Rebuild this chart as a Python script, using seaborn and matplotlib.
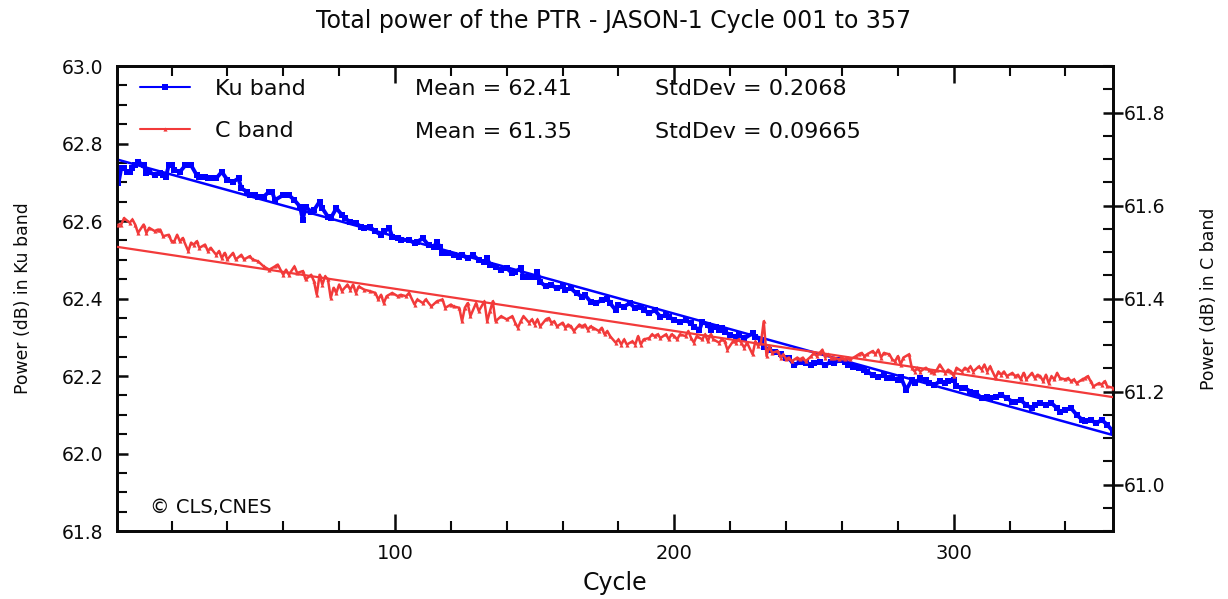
import numpy as np
import pandas as pd
import matplotlib
matplotlib.use("Agg")
import matplotlib.pyplot as plt
from matplotlib.ticker import MultipleLocator, FormatStrFormatter
import seaborn as sns

# ---------------- data ----------------
ku_cycle = [1, 2, 3, 4, 5, 6, 7, 8, 10, 11, 12, 14, 16, 17, 18, 19, 20, 21, 23, 25, 27, 29, 30, 32, 33, 35, 36, 38,
            40, 42, 44, 45, 47, 48, 50, 51, 53, 55, 56, 57, 60, 62, 64, 66, 67, 68, 70,
            71, 73, 74, 76, 77, 79, 81, 82, 84, 86, 88, 89, 91, 93, 95, 96, 98, 99, 101, 102, 105, 107, 108, 110,
            112, 114, 115, 116, 117, 119, 121, 123, 124, 126, 128, 130, 132, 133, 134, 136, 138, 140, 142,
            143, 145, 146, 148, 150, 151, 152, 154, 156, 158, 160, 161, 163, 165, 167, 168, 170, 172, 174, 176,
            177, 179, 180, 182, 184, 186, 188, 189, 191, 193, 195, 197, 198, 200, 202, 204, 206, 207, 209, 210,
            212, 213, 214,
            215, 216, 217, 218, 220, 222, 223, 225, 228, 229, 231, 232, 234, 236, 238, 240, 241, 243, 245, 247,
            249, 250, 252, 254, 256, 257, 259, 261, 262, 264, 266, 268, 269, 271, 273, 275, 276, 278, 280, 281,
            283, 285,
            286, 288, 290, 291, 293, 295, 297, 298, 300, 301, 303, 304, 306, 308, 310, 312, 313, 315, 317, 319,
            321, 322, 324, 326, 328, 329, 331, 333, 335, 337, 338, 340, 342, 344, 346, 347, 349, 351, 353, 355, 357]
ku_power = [62.697, 62.736, 62.736, 62.727, 62.727, 62.736, 62.744, 62.753, 62.744, 62.723, 62.727, 62.719, 62.723,
            62.719, 62.714, 62.744, 62.744, 62.732, 62.727, 62.744, 62.744, 62.719, 62.714, 62.714, 62.710, 62.710,
            62.710, 62.727, 62.706, 62.701, 62.710, 62.684, 62.676, 62.667, 62.667, 62.663, 62.663, 62.676, 62.676,
            62.654, 62.667, 62.667, 62.654, 62.637, 62.603, 62.637, 62.624,
            62.628, 62.650, 62.633, 62.611, 62.607, 62.633, 62.616, 62.607, 62.598, 62.594, 62.585, 62.581, 62.585,
            62.573, 62.564, 62.573, 62.581, 62.560, 62.555, 62.551, 62.551, 62.543, 62.547, 62.555,
            62.538, 62.534, 62.547, 62.534, 62.517, 62.517, 62.512, 62.508, 62.512, 62.504, 62.512, 62.499, 62.495,
            62.504, 62.487, 62.482, 62.474, 62.478, 62.465,
            62.469, 62.478, 62.456, 62.456, 62.456, 62.469, 62.443, 62.431, 62.435, 62.426, 62.431, 62.422, 62.426,
            62.413, 62.405, 62.409, 62.392, 62.388, 62.396, 62.400,
            62.388, 62.370, 62.383, 62.379, 62.388, 62.375, 62.379, 62.370, 62.362, 62.370, 62.353, 62.357, 62.353,
            62.344, 62.340, 62.344, 62.336, 62.327, 62.319, 62.340,
            62.332, 62.319, 62.327,
            62.327, 62.319, 62.323, 62.314, 62.306, 62.301, 62.306, 62.297, 62.310, 62.301, 62.293, 62.276, 62.267,
            62.263, 62.258, 62.246, 62.246, 62.228, 62.237, 62.233,
            62.228, 62.233, 62.237, 62.228, 62.237, 62.233, 62.241, 62.237, 62.228, 62.224, 62.220, 62.215, 62.211,
            62.203, 62.198, 62.203, 62.194, 62.194, 62.190, 62.198,
            62.164, 62.190,
            62.181, 62.194, 62.190, 62.181, 62.177, 62.186, 62.181, 62.186, 62.190, 62.173, 62.169, 62.169, 62.160,
            62.156, 62.143, 62.147, 62.143, 62.147, 62.151, 62.143,
            62.134, 62.134, 62.138, 62.125, 62.117, 62.125, 62.130, 62.125, 62.130, 62.117, 62.108, 62.113, 62.117,
            62.100, 62.087, 62.083, 62.087, 62.078, 62.087, 62.074, 62.057]

c_cycle = [1, 2, 3, 5, 6, 7, 8, 10, 11, 12, 14, 15, 16, 17, 19, 20, 21, 22, 23, 24, 26, 27, 28, 29, 30, 32, 33, 34,
           36, 37, 38, 39, 40, 42, 43, 45, 46, 48, 49, 51, 53, 55, 57, 58, 60, 61, 62, 64, 65, 67, 68, 70, 71,
           72, 73, 74, 75, 76, 77, 78, 79, 80, 81, 83, 84, 85, 86, 87, 89, 91, 93, 94, 95, 96, 97, 99, 101, 102,
           104, 105, 107, 108, 110, 111, 113, 115, 117, 118, 120, 121, 123, 124, 125, 126, 127, 129, 130, 132,
           133, 134, 135, 136, 138, 140, 142,
           143, 144, 145, 146, 148, 149, 150, 151, 152, 154, 155, 156, 157, 158, 160, 161, 162, 163, 164, 166,
           167, 168, 169, 170, 171, 173, 174, 175, 176, 177, 179, 180, 181, 182, 183, 185, 186, 187, 188, 189,
           191, 192, 193, 194, 195, 197, 198, 199, 200, 201, 202, 204, 205, 206, 207, 208, 210, 211, 212, 213,
           214, 216, 217, 218, 219, 221, 222, 223, 224, 225, 226, 228, 229, 230, 231, 232, 233, 234, 235, 237,
           238, 239, 240, 241, 242, 244, 245, 246, 247, 249, 250, 251, 252, 253, 254, 255, 256, 257, 259, 260,
           261, 262, 263, 265, 266, 267, 268, 269, 271, 272, 273, 274, 275, 277, 278, 279, 280, 281, 282, 284, 285,
           286, 287, 288, 290, 291, 292, 293, 294, 295, 297, 298, 299, 300, 301, 303, 304, 305, 306, 307, 309,
           310, 311, 312, 313, 315, 316, 317, 318, 319, 321, 322, 323, 324, 325, 326, 328, 329, 330, 331, 332,
           333, 334, 335, 336, 337, 338, 340, 341, 342, 343, 344, 346, 347, 348, 349, 350, 352, 353, 354, 355, 357]
c_power = [61.559, 61.559, 61.573, 61.563, 61.570, 61.559, 61.541, 61.559, 61.541, 61.552, 61.545, 61.548, 61.548,
           61.534, 61.537, 61.523, 61.523, 61.537, 61.523, 61.530, 61.502, 61.520, 61.516, 61.523, 61.509, 61.516,
           61.502, 61.509, 61.494, 61.502, 61.487, 61.498, 61.484, 61.498, 61.484, 61.494, 61.484, 61.491, 61.484,
           61.480, 61.469, 61.462, 61.469, 61.473, 61.451, 61.462, 61.451, 61.469, 61.455, 61.459, 61.441, 61.451,
           61.437,
           61.408, 61.451, 61.430, 61.448, 61.441, 61.401, 61.423, 61.412, 61.430, 61.416, 61.430, 61.419, 61.430,
           61.412, 61.426, 61.419, 61.416, 61.412, 61.398, 61.408, 61.390, 61.405, 61.412, 61.405, 61.408,
           61.405, 61.412, 61.387, 61.398, 61.390, 61.398, 61.383, 61.394, 61.398, 61.380, 61.387, 61.383, 61.380,
           61.351, 61.380, 61.390, 61.362, 61.390, 61.373, 61.394,
           61.351, 61.373, 61.394, 61.351, 61.362, 61.355, 61.362,
           61.348, 61.337, 61.351, 61.362, 61.348, 61.355, 61.344, 61.355, 61.340, 61.355, 61.358, 61.348, 61.351,
           61.340, 61.348, 61.337, 61.344, 61.340, 61.330, 61.344,
           61.340, 61.344, 61.333, 61.340, 61.337, 61.330, 61.337, 61.323, 61.330, 61.319, 61.305, 61.312, 61.301,
           61.312, 61.301, 61.308, 61.301, 61.319, 61.301, 61.312,
           61.315, 61.323, 61.319, 61.323, 61.315, 61.323, 61.312, 61.323, 61.319, 61.312, 61.323, 61.319, 61.330,
           61.315, 61.305, 61.319, 61.312, 61.323, 61.308, 61.323,
           61.312, 61.305, 61.312, 61.308, 61.290, 61.308, 61.305, 61.312, 61.305, 61.294, 61.305, 61.280, 61.308,
           61.298, 61.305, 61.351, 61.276, 61.298, 61.283, 61.287,
           61.273, 61.280, 61.269, 61.273, 61.265, 61.273, 61.269, 61.273, 61.265, 61.276, 61.283, 61.276, 61.283,
           61.290, 61.273, 61.280, 61.273, 61.273, 61.269, 61.273,
           61.269, 61.273, 61.269, 61.276, 61.280, 61.283, 61.276, 61.280, 61.287, 61.280, 61.290, 61.273, 61.283,
           61.280, 61.269, 61.265, 61.276, 61.258, 61.273, 61.280, 61.251,
           61.243, 61.251, 61.243, 61.251, 61.247, 61.243, 61.240, 61.247, 61.258, 61.240, 61.247, 61.243, 61.233,
           61.251, 61.243, 61.251, 61.247, 61.254, 61.243, 61.254,
           61.247, 61.258, 61.243, 61.254, 61.229, 61.243, 61.236, 61.243, 61.233, 61.240, 61.233, 61.236, 61.226,
           61.240, 61.226, 61.240, 61.229, 61.236, 61.233, 61.222,
           61.236, 61.218, 61.233, 61.226, 61.240, 61.229, 61.226, 61.229, 61.222, 61.226, 61.218, 61.226, 61.229,
           61.233, 61.222, 61.211, 61.218, 61.215, 61.222, 61.211, 61.208]

series_labels = ["Ku band", "C band"]
stats_text = [("Mean = 62.41", "StdDev = 0.2068"), ("Mean = 61.35", "StdDev = 0.09665")]
title = "Total power of the PTR - JASON-1 Cycle 001 to 357"
x_label = "Cycle"
ku_label = "Power (dB) in Ku band"
c_label = "Power (dB) in C band"
credit = "\u00a9 CLS,CNES"

# ---------------- styling ----------------
sns.set_theme(style="ticks")
plt.rcParams["font.family"] = ["DejaVu Sans"]
BLUE = "#0000ff"
RED = "#f23a3a"
INK = "#0a0a0a"

ku_df = pd.DataFrame({"cycle": ku_cycle, "power": ku_power})
c_df = pd.DataFrame({"cycle": c_cycle, "power": c_power})

fig = plt.figure(figsize=(12.28, 5.99), dpi=100)
ax = fig.add_axes([0.0953, 0.1135, 0.8110, 0.7763])
ax2 = ax.twinx()

sns.lineplot(data=ku_df, x="cycle", y="power", ax=ax, color=BLUE, lw=2.8,
             marker="s", markersize=5, markeredgewidth=0, markerfacecolor=BLUE,
             label=series_labels[0], legend=False, zorder=3)
kfit = np.polyfit(ku_df["cycle"], ku_df["power"], 1)
kx = np.array([ku_df["cycle"].min() - 0.5, ku_df["cycle"].max()])
sns.lineplot(x=kx, y=np.polyval(kfit, kx), ax=ax, color=BLUE, lw=1.8, legend=False, zorder=4)

sns.lineplot(data=c_df, x="cycle", y="power", ax=ax2, color=RED, lw=1.8,
             marker="^", markersize=3, markeredgewidth=0, markerfacecolor=RED,
             label=series_labels[1], legend=False, zorder=3)
cfit = np.polyfit(c_df["cycle"], c_df["power"], 1)
cx = np.array([c_df["cycle"].min() - 0.5, c_df["cycle"].max()])
sns.lineplot(x=cx, y=np.polyval(cfit, cx), ax=ax2, color=RED, lw=1.6, legend=False, zorder=4)

ax.set_xlim(0.5, 357)
ax.set_ylim(61.8, 63.0)
ax2.set_ylim(60.9, 61.9)

ax.xaxis.set_major_locator(MultipleLocator(100))
ax.xaxis.set_minor_locator(MultipleLocator(20))
ax.yaxis.set_major_locator(MultipleLocator(0.2))
ax.yaxis.set_minor_locator(MultipleLocator(0.05))
ax.yaxis.set_major_formatter(FormatStrFormatter("%.1f"))
ax2.yaxis.set_major_locator(MultipleLocator(0.2))
ax2.yaxis.set_minor_locator(MultipleLocator(0.05))
ax2.yaxis.set_major_formatter(FormatStrFormatter("%.1f"))

for a in (ax, ax2):
    for s in a.spines.values():
        s.set_linewidth(2.0)
        s.set_color(INK)
ax.tick_params(axis="x", which="both", direction="in", top=True, bottom=True, colors=INK,
               labelsize=14, pad=9)
ax.tick_params(axis="x", which="major", length=12, width=1.8)
ax.tick_params(axis="x", which="minor", length=7, width=1.5)
ax.tick_params(axis="y", which="both", direction="in", left=True, right=False, colors=INK,
               labelsize=13.5, pad=10)
ax.tick_params(axis="y", which="major", length=8, width=1.8)
ax.tick_params(axis="y", which="minor", length=7, width=1.5)
ax2.tick_params(axis="y", which="major", direction="inout", length=14, width=1.8, colors=INK,
                labelsize=13.5, pad=1)
ax2.tick_params(axis="y", which="minor", direction="in", length=7, width=1.5, colors=INK)

ax.set_xlabel(x_label, fontsize=17, labelpad=6, color=INK)
ax.set_ylabel(ku_label, fontsize=12.4, labelpad=21, color=INK)
ax2.set_ylabel(c_label, fontsize=12.4, labelpad=25, color=INK)
fig.suptitle(title, y=0.985, fontsize=17, color=INK)

handles = [ax.lines[0], ax2.lines[0]]
fs_leg = 16
leg = ax.legend(handles, series_labels, loc="upper left", bbox_to_anchor=(0.023, 0.972), frameon=False,
                fontsize=fs_leg, handlelength=2.25, handletextpad=1.13, labelspacing=1.0,
                borderaxespad=0.0, borderpad=0.0, numpoints=1, labelcolor=INK)
for h in leg.legend_handles:
    h.set_linewidth(1.5)
for i, (m, sd) in enumerate(stats_text):
    yy = 0.951 - i * 0.092
    ax.text(0.299, yy, m, transform=ax.transAxes, fontsize=fs_leg, va="center", ha="left", color=INK)
    ax.text(0.540, yy, sd, transform=ax.transAxes, fontsize=fs_leg, va="center", ha="left", color=INK)

ax.text(0.033, 0.05, credit, transform=ax.transAxes, fontsize=14, va="center", ha="left", color=INK)

fig.savefig("out.png", dpi=100)
